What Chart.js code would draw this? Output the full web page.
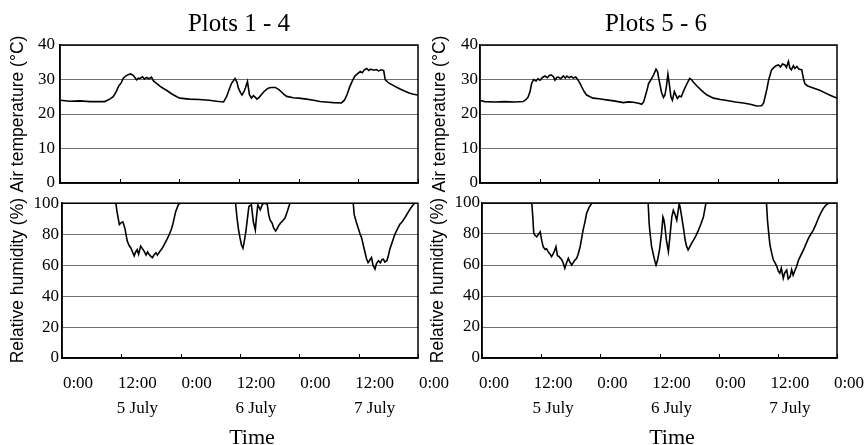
<!DOCTYPE html>
<html><head><meta charset="utf-8">
<script src="https://cdn.jsdelivr.net/npm/chart.js@4"></script>
<style>
html,body{margin:0;padding:0;background:#fff;overflow:hidden;}
#wrap{position:relative;width:866px;height:445px;overflow:hidden;background:#fff;}
canvas{position:absolute;}
.lbl{position:absolute;font-family:"Liberation Serif","Times New Roman",serif;color:#000;transform:translate(-50%,-50%);white-space:nowrap;line-height:1;}
</style></head><body>
<div id="wrap">
<canvas id="c1" width="430" height="200" style="left:0;top:0"></canvas>
<canvas id="c2" width="460" height="258" style="left:0;top:190px"></canvas>
<canvas id="c3" width="446" height="200" style="left:420px;top:0"></canvas>
<canvas id="c4" width="446" height="258" style="left:420px;top:190px"></canvas>
<div class="lbl" style="left:239px;top:22px;font-size:25px">Plots 1 - 4</div>
<div class="lbl" style="left:656px;top:22px;font-size:25px">Plots 5 - 6</div>
<div class="lbl" style="left:252px;top:437px;font-size:22px">Time</div>
<div class="lbl" style="left:672px;top:437px;font-size:22px">Time</div>
</div>
<script>
// ---- tick labels ----
const tickHours = [0, 12, 24, 36, 48, 60, 72];
const tickTimes = ['0:00', '12:00', '0:00', '12:00', '0:00', '12:00', '0:00'];
const tickDates = ['', '5 July', '', '6 July', '', '7 July', ''];
const tempTicks = [0, 10, 20, 30, 40];
const rhTicks = [0, 20, 40, 60, 80, 100];

// ---- Plots 1-4: air temperature (hours from 0:00 on 5 July) ----
const p14TempHours = [0,2,4,6,8,9,10,10.7,11.3,11.8,12.3,12.7,13.2,13.7,14.2,14.7,15.1,15.4,15.8,16.1,16.6,17.0,17.4,17.9,18.4,18.8,19.4,20.1,20.8,21.5,22.5,23.5,24.1,26,28,30,31.5,32.9,33.5,34.0,34.5,35.2,35.6,35.9,36.3,36.6,37.0,37.3,37.7,38.1,38.5,38.9,39.3,39.6,40.1,40.6,41.1,41.6,42.1,42.6,43.3,44.1,44.6,45.1,45.6,46.9,48,49.6,51,52.3,54,55,56.6,57.2,57.7,58.3,58.8,59.3,59.8,60.4,60.8,61.2,61.7,62.1,62.5,63.1,63.6,64.1,64.6,65.1,65.4,66.1,67,67.8,68.6,69.4,70.2,71.1,72];
const p14Temp = [24.0,23.7,23.8,23.6,23.6,23.6,24.3,25.0,26.5,28.1,29.0,30.3,31.0,31.4,31.6,31.2,30.5,29.9,30.4,30.3,30.8,30.1,30.6,30.2,30.7,29.6,28.9,28.1,27.4,26.8,25.8,25.0,24.6,24.3,24.2,24.0,23.7,23.5,25.0,27.0,28.9,30.3,29.2,27.4,26.2,25.5,26.5,27.6,29.4,25.6,24.6,25.3,24.8,24.3,24.9,25.8,26.6,27.2,27.6,27.7,27.7,27.0,26.3,25.6,25.1,24.7,24.6,24.3,24.0,23.6,23.4,23.3,23.2,24.0,25.5,28.0,29.6,31.0,31.6,32.3,32.0,32.8,33.2,32.6,33.0,32.7,32.9,32.5,32.8,32.6,30.0,29.0,28.3,27.7,27.1,26.6,26.1,25.7,25.5];

// ---- Plots 5-6: air temperature ----
const p56TempHours = [0,1,3,5,7,8.7,9.3,9.7,10.1,10.4,10.8,11.3,11.7,12.1,12.6,13.1,13.6,14.0,14.4,14.8,15.1,15.5,15.8,16.3,16.8,17.2,17.5,18.0,18.4,18.8,19.3,19.8,20.2,20.5,21.0,21.5,22.2,22.8,24,25.5,27,28.9,30,30.9,32,32.6,33.0,33.3,33.7,34.0,34.5,35.0,35.5,35.8,36.0,36.3,36.6,37.0,37.3,37.6,37.9,38.2,38.5,38.8,39.2,39.5,39.8,40.2,40.6,41.0,41.6,42.0,42.3,42.7,43.1,43.7,44.4,45.1,45.8,46.5,47.1,48.5,49.8,51.5,53.1,54.5,55.8,56.8,57.2,57.5,57.9,58.2,58.8,59.3,59.7,60.2,60.6,61.0,61.5,61.8,62.2,62.5,62.8,63.2,63.5,63.9,64.3,64.9,65.2,65.5,66.0,66.5,67.5,68.5,69.5,70.5,71.3,72];
const p56Temp = [23.9,23.6,23.5,23.6,23.5,23.6,24.2,24.9,26.5,28.8,30.0,29.6,30.2,29.8,30.6,31.0,30.5,31.2,31.3,30.8,29.8,30.6,30.7,30.2,31.0,30.4,31.0,30.5,30.9,30.4,30.7,29.8,28.8,27.9,26.5,25.5,25.0,24.6,24.4,24.1,23.8,23.3,23.5,23.4,23.1,22.8,23.5,25.0,27.0,28.8,30.0,31.3,33.0,32.3,30.7,28.5,26.3,24.8,25.5,28.0,31.5,28.5,25.0,24.0,26.5,25.5,24.5,25.2,25.0,26.5,28.4,29.5,30.3,29.9,29.1,28.2,27.2,26.3,25.5,25.0,24.6,24.2,23.9,23.5,23.2,22.8,22.3,22.4,23.2,25.0,27.5,29.8,32.8,33.5,34.0,34.2,33.6,34.5,34.2,33.5,35.2,33.3,32.8,34.0,33.2,33.8,33.0,32.8,30.5,28.8,28.2,27.9,27.4,26.9,26.2,25.5,25.0,24.6];

// ---- Plots 1-4: relative humidity ----
const p14RhHours = [0,10.9,11.1,11.6,12.0,12.3,12.7,13.2,13.6,13.9,14.2,14.6,14.9,15.2,15.5,15.9,16.2,16.6,17.0,17.3,17.6,18.0,18.3,18.6,19.0,19.3,19.7,20.2,20.7,21.2,21.7,22.1,22.4,22.7,23.0,23.6,24,35.1,35.4,35.7,36.0,36.3,36.6,36.9,37.2,37.5,37.8,38.3,38.7,39.1,39.3,39.6,40.1,40.5,40.8,41.5,41.8,42.1,42.5,42.8,43.2,43.5,43.8,44.2,44.6,45.1,45.6,46.1,58.9,59.1,59.5,59.9,60.3,60.6,61.0,61.3,61.6,61.9,62.2,62.6,62.9,63.3,63.6,64.0,64.4,64.7,65.0,65.3,65.7,66.0,66.3,66.8,67.3,67.8,68.3,68.8,69.3,69.8,70.3,70.8,71.3,72];
const p14Rh = [100,100,95,86.2,87.5,88,84,75.5,72.5,71.3,69,66,68.5,70,67,72.3,71,69,66.5,68.5,67,65.5,64.9,66.5,68,66.5,68.5,70.5,73.4,76.5,79.8,83,86.2,90.5,94.7,99.5,100,100,90.4,83,77.6,73,71,76,82,90,97.9,99,88,82.7,90,99,95.7,99,100,99.5,92.6,89,87.2,84,82,83.5,85.5,87.2,88.5,90.4,95,100,100,92.6,88,84,80,77.6,72,68,64,61.6,63,64.9,60,57.5,61,62.8,61.5,63.5,63.8,62,62.8,66,70.2,75,79.8,83,86.2,88,90.4,93,95.7,98,100,100];

// ---- Plots 5-6: relative humidity ----
const p56RhHours = [0,10.1,10.3,10.5,10.8,11.1,11.5,11.8,12.1,12.4,12.8,13.1,13.4,13.8,14.1,14.4,14.7,15.0,15.3,15.6,16.0,16.2,16.5,16.8,17.1,17.5,17.8,18.2,18.5,18.8,19.2,19.5,19.9,20.2,20.5,20.9,21.2,21.7,22.2,22.5,33.7,33.9,34.1,34.4,34.8,35.1,35.3,35.6,36.0,36.4,36.7,36.9,37.1,37.4,37.8,38.1,38.5,38.8,39.1,39.5,40.0,40.2,40.5,40.9,41.2,41.5,41.8,42.2,42.5,42.9,43.4,43.9,44.4,44.9,45.2,45.4,45.7,57.7,57.9,58.2,58.4,58.8,59.1,59.5,59.8,60.1,60.4,60.7,61.1,61.4,61.8,62.1,62.5,62.8,63.1,63.5,63.8,64.2,64.7,65.2,65.7,66.2,66.7,67.2,67.7,68.2,68.7,69.2,69.7,70.2,70.5,72];
const p56Rh = [100,100,91,80.3,79,78.2,80,81.4,76,71.8,70,70.5,68.6,67,65.4,67,69,71.8,66,65.5,64,63.2,61,57.9,61,64.3,62,60,61.5,63,64.3,67,71.8,77,82.5,88,93.2,97,99.6,100,100,86.8,80,71.8,66,62,60,63,69.7,80,91,89,84.6,76,68.6,78,91,95.3,93,88.9,99.6,97,91,83,76.1,72,69.7,72,74,76.1,79,82.5,86.5,91,96,99.6,100,100,88.9,79,72.9,67,63.2,61,59,56,54.7,58,51.5,55,56.8,51,52.5,57,53.5,56.8,59,63.2,66.5,69.7,73.5,77.2,80,82.5,86,90,93.5,96.4,98.5,99.6,100,100];

const SERIF = '"Liberation Serif","Times New Roman",serif';
const SANS = '"Liberation Sans",Arial,sans-serif';

const framePlugin = {
  id: 'frame',
  afterDraw(chart) {
    const {ctx, chartArea: a, scales: {x}} = chart;
    ctx.save();
    ctx.strokeStyle = '#000';
    ctx.lineWidth = 1.5;
    ctx.strokeRect(a.left, a.top, a.right - a.left, a.bottom - a.top);
    ctx.lineWidth = 1;
    x.ticks.forEach(t => {
      const px = Math.round(x.getPixelForValue(t.value)) + 0.5;
      ctx.beginPath();
      ctx.moveTo(px, a.bottom);
      ctx.lineTo(px, a.bottom - 4);
      ctx.stroke();
    });
    ctx.restore();
  }
};

function makeChart(id, hours, values, cfg) {
  return new Chart(document.getElementById(id), {
    type: 'line',
    data: {
      datasets: [{
        data: hours.map((h, i) => ({x: h, y: values[i]})),
        borderColor: '#000',
        borderWidth: 1.6,
        pointRadius: 0,
        tension: 0,
        fill: false
      }]
    },
    options: {
      responsive: false,
      animation: false,
      devicePixelRatio: 1,
      layout: {padding: {top: cfg.padTop, right: cfg.padRight, left: 0, bottom: 0}},
      plugins: {legend: {display: false}, tooltip: {enabled: false}, title: {display: false}},
      scales: {
        x: {
          type: 'linear', min: 0, max: 72,
          afterBuildTicks: s => { s.ticks = tickHours.map(v => ({value: v})); },
          afterFit: s => { s.height = cfg.xHeight; },
          grid: {display: false, drawTicks: false},
          border: {display: true, color: '#000', width: 1.5},
          ticks: {
            display: cfg.showX, autoSkip: false, maxRotation: 0, minRotation: 0,
            padding: 13, labelOffset: cfg.labelOffset, color: '#000',
            font: {family: SERIF, size: 17, lineHeight: 25 / 17},
            callback: (v) => {
              const i = tickHours.indexOf(v);
              if (i < 0) return '';
              return tickDates[i] ? [tickTimes[i], tickDates[i]] : tickTimes[i];
            }
          }
        },
        y: {
          min: cfg.yMin, max: cfg.yMax,
          afterBuildTicks: s => { s.ticks = cfg.yTicks.map(v => ({value: v})); },
          afterFit: s => { s.width = cfg.yWidth; },
          grid: {color: '#707070', lineWidth: 1, drawTicks: false},
          border: {display: true, color: '#000', width: 1.5},
          ticks: {padding: cfg.yPad, color: '#000', font: {family: SERIF, size: 17}},
          title: {
            display: true, text: cfg.yTitle, color: '#000',
            font: {family: SANS, size: 17.5, lineHeight: 1.2},
            padding: {top: cfg.titlePad, bottom: 0}
          }
        }
      }
    },
    plugins: [framePlugin]
  });
}

makeChart('c1', p14TempHours, p14Temp, {
  padTop: 45, padRight: 12, xHeight: 17, showX: false, labelOffset: 0,
  yMin: 0, yMax: 40, yTicks: tempTicks, yWidth: 60, yPad: 5, titlePad: 8,
  yTitle: 'Air temperature (\u00B0C)'
});
makeChart('c2', p14RhHours, p14Rh, {
  padTop: 12, padRight: 42, xHeight: 90, showX: true, labelOffset: 16,
  yMin: 0, yMax: 100, yTicks: rhTicks, yWidth: 62, yPad: 3, titlePad: 8,
  yTitle: 'Relative humidity (%)'
});
makeChart('c3', p56TempHours, p56Temp, {
  padTop: 45, padRight: 29, xHeight: 17, showX: false, labelOffset: 0,
  yMin: 0, yMax: 40, yTicks: tempTicks, yWidth: 60, yPad: 2, titlePad: 10,
  yTitle: 'Air temperature (\u00B0C)'
});
makeChart('c4', p56RhHours, p56Rh, {
  padTop: 13, padRight: 29, xHeight: 90, showX: true, labelOffset: 12,
  yMin: 0, yMax: 100, yTicks: rhTicks, yWidth: 62, yPad: 2, titlePad: 8,
  yTitle: 'Relative humidity (%)'
});
</script>
</body></html>
